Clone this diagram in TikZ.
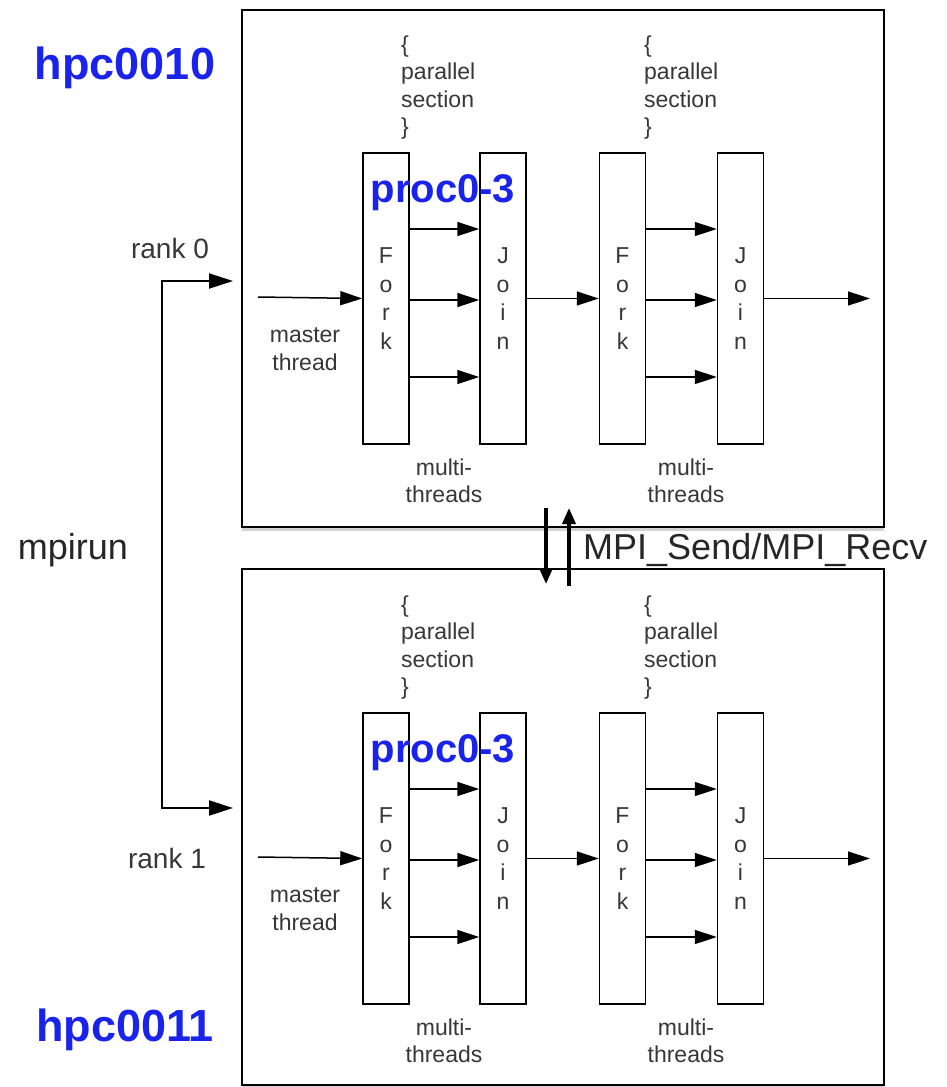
\documentclass[tikz,border=0pt]{standalone}
\usepackage{fontspec}
\setmainfont{Liberation Sans}
\usetikzlibrary{arrows.meta,shadows}
\definecolor{txt}{RGB}{55,55,55}
\definecolor{hblue}{RGB}{25,35,235}
\begin{document}
\begin{tikzpicture}[x=1pt,y=-1pt,
  tip/.style={Triangle[length=22pt,width=14pt]},
  arr/.style={-{Triangle[length=22pt,width=14pt]}, line width=1.5pt},
  bar/.style={draw, line width=1.5pt, minimum width=46pt, minimum height=291pt, inner sep=0pt, fill=white, text=txt, font=\fontsize{23}{28.5}\selectfont, align=center},
  small/.style={text=txt, font=\fontsize{23}{27.5}\selectfont, inner sep=0pt},
  host/.style={text=hblue, font=\fontsize{45}{50}\selectfont\bfseries, inner sep=0pt},
  frame/.style={draw, line width=1.8pt, fill=white, minimum width=642pt, minimum height=517pt, inner sep=0pt,
    drop shadow={shadow xshift=0pt,shadow yshift=-4pt,opacity=0.35}}]
\useasboundingbox (0,0) rectangle (946,1087);
\fill[white] (0,0) rectangle (946,1087);
% the two host frames
\node[frame] (box0) at (563,268.5) {};
\node[frame, minimum height=516pt] (box1) at (563,827) {};
% fork/join blocks
\foreach \blk/\dy in {0/0,1/560}{
\begin{scope}[yshift=-\dy pt]
  \node[bar] (fa\blk) at (386,298.5) {F\\o\\r\\k};
  \node[bar] (ja\blk) at (503,298.5) {J\\o\\i\\n};
  \node[bar] (fb\blk) at (622.5,298.5) {F\\o\\r\\k};
  \node[bar] (jb\blk) at (740.5,298.5) {J\\o\\i\\n};
  \coordinate (ms\blk) at (258,297);
  \coordinate (out\blk) at (870,298.5);
  \draw[arr] (ms\blk) -- (fa\blk.west);
  \draw[arr] ([yshift=69.5pt]fa\blk.east) -- ([yshift=69.5pt]ja\blk.west);
  \draw[arr] ([yshift=-1.5pt]fa\blk.east) -- ([yshift=-1.5pt]ja\blk.west);
  \draw[arr] ([yshift=-78.5pt]fa\blk.east) -- ([yshift=-78.5pt]ja\blk.west);
  \draw[arr] ([yshift=69.5pt]fb\blk.east) -- ([yshift=69.5pt]jb\blk.west);
  \draw[arr] ([yshift=-1.5pt]fb\blk.east) -- ([yshift=-1.5pt]jb\blk.west);
  \draw[arr] ([yshift=-78.5pt]fb\blk.east) -- ([yshift=-78.5pt]jb\blk.west);
  \draw[arr] (ja\blk) -- (fb\blk);
  \draw[arr] (jb\blk.east) -- (out\blk);
  \node[small, anchor=west, align=left] (psa\blk) at (401,87.5) {\{\\parallel\\section\\\}};
  \node[small, anchor=west, align=left] (psb\blk) at (644,87.5) {\{\\parallel\\section\\\}};
  \node[small, align=center] (mta\blk) at (444,481) {multi-\\threads};
  \node[small, align=center] (mtb\blk) at (686,481) {multi-\\threads};
  \node[small, align=center] (mst\blk) at (305,349) {master\\thread};
  \node[host, font=\fontsize{40}{44}\selectfont\bfseries] (pr\blk) at (443,193) {proc0-3};
\end{scope}
}
% host names
\node[host] (h0) at (125,68) {hpc0010};
\node[host] (h1) at (125,1030) {hpc0011};
% mpirun bracket
\node[text=txt, font=\fontsize{28}{32}\selectfont, inner sep=0pt] (r0) at (170,248) {rank 0};
\node[text=txt, font=\fontsize{28}{32}\selectfont, inner sep=0pt] (r1) at (167,858) {rank 1};
\node[text=black!85, font=\fontsize{36}{40}\selectfont, inner sep=0pt] (mpr) at (73,550) {mpirun};
\coordinate (b0) at (162,281);
\coordinate (b1) at (162,808);
\coordinate (t0) at (233,281);
\coordinate (t1) at (233,808);
\draw[{Triangle[length=24pt,width=15pt]}-{Triangle[length=24pt,width=15pt]}, line width=2pt] (t0) -- (b0) -- (b1) -- (t1);
% MPI communication
\coordinate (d0) at (546,508);
\coordinate (d1) at (546,584);
\coordinate (u0) at (569,586);
\coordinate (u1) at (569,508);
\draw[-{Triangle[length=16pt,width=13pt]}, line width=3.5pt] (d0) -- (d1);
\draw[-{Triangle[length=16pt,width=13pt]}, line width=3.5pt] (u0) -- (u1);
\node[text=black!85, font=\fontsize{36}{40}\selectfont, anchor=west, inner sep=0pt] (mpi) at (583,550) {MPI\_Send/MPI\_Recv};
\end{tikzpicture}
\end{document}
